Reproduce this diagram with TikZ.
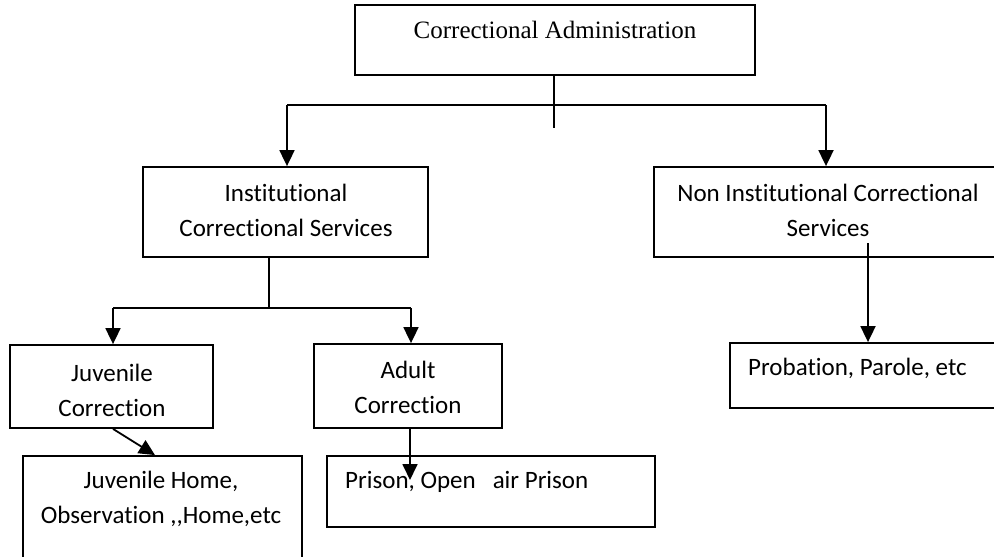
\documentclass[tikz,border=0pt]{standalone}
\usepackage{fontspec}
\setmainfont{Carlito}[Ligatures={CommonOff,NoCommon}]
\newfontfamily\seriffont{Liberation Serif}
\usetikzlibrary{arrows.meta}
\begin{document}
\begin{tikzpicture}[x=1pt,y=-1pt,
  box/.style={draw, line width=1.8pt, inner sep=0pt},
  txt/.style={font=\fontsize{25}{35}\selectfont, align=center, inner sep=0pt},
  conn/.style={line width=1.8pt},
  arr/.style={conn, -{Triangle[length=16pt,width=15pt]}}]
\useasboundingbox (0,0) rectangle (994,557);
\fill[white] (0,0) rectangle (994,557);
\clip (0,0) rectangle (994,557);
% boxes
\node[box, minimum width=400pt, minimum height=70pt] (top) at (555,40) {};
\node[box, minimum width=285pt, minimum height=90pt] (inst) at (285.5,212) {};
\node[box, minimum width=356pt, minimum height=90pt] (non) at (832,212) {};
\node[box, minimum width=203pt, minimum height=83pt] (juv) at (111.5,386.5) {};
\node[box, minimum width=188pt, minimum height=84pt] (adult) at (408,386) {};
\node[box, minimum width=279pt, minimum height=109pt] (jhome) at (162.5,510.5) {};
\node[box, minimum width=328pt, minimum height=71pt] (prison) at (491,491.5) {};
\node[box, minimum width=280pt, minimum height=65pt] (prob) at (870,375.5) {};
% texts
\node[txt, font=\seriffont\fontsize{25}{30}\selectfont] (ttop) at (555,30) {Correctional Administration};
\node[txt] (tinst) at (286,210.5) {Institutional\\Correctional Services};
\node[txt] (tnon) at (828,210.5) {Non Institutional Correctional\\Services};
\node[txt] (tjuv) at (112,390) {Juvenile\\Correction};
\node[txt] (tadult) at (408,387.5) {Adult\\Correction};
\node[txt] (tjhome) at (161,499) {Juvenile Home,\\Observation ,{},Home,etc};
\node[txt, anchor=west] (tprison) at (345,482) {Prison, Open\ \ \ air Prison};
\node[txt, anchor=west] (tprob) at (748,368) {Probation, Parole, etc};
% connectors
\coordinate (stemend) at (554,128);
\coordinate (hl) at (287,105);
\coordinate (hr) at (826,105);
\draw[conn] ([xshift=-1pt]top.south) -- ([xshift=-1pt]top.south |- stemend);
\draw[conn] (hl) -- (hr);
\draw[arr] (hl) -- (hl |- inst.north);
\draw[arr] (hr) -- (hr |- non.north);
\coordinate (jl) at (113,308);
\coordinate (jr) at (411,308);
\draw[conn] ([xshift=-16.5pt]inst.south) -- ([xshift=-16.5pt]inst.south |- jl);
\draw[conn] (jl) -- (jr);
\draw[arr] (jl) -- (jl |- juv.north);
\draw[arr] (jr) -- (jr |- adult.north);
\draw[arr] ([xshift=1.5pt]juv.south) -- ([xshift=-7.5pt]jhome.north);
\coordinate (ae) at (410,480);
\draw[arr] ([xshift=2pt]adult.south) -- (ae);
\coordinate (ps) at (868,243);
\draw[arr] (ps) -- (ps |- prob.north);
\end{tikzpicture}
\end{document}
